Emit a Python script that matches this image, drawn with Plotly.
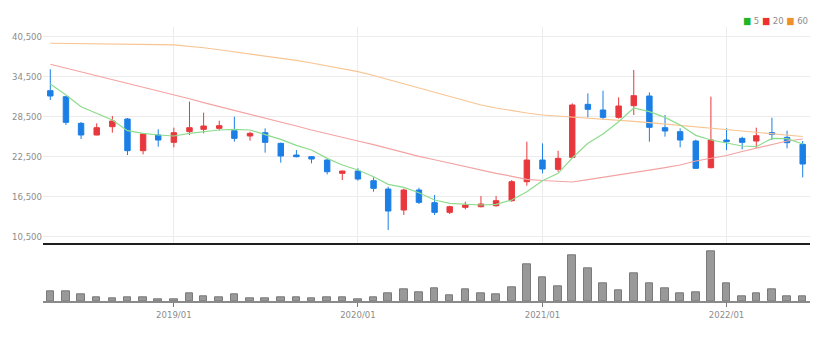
import pandas as pd
import plotly.graph_objects as go
from plotly.subplots import make_subplots

# Monthly candles, 2018/05 - 2022/06
months = pd.date_range("2018-05-01", periods=50, freq="MS")

open_ = [32400, 31500, 27500, 25750, 27000, 28150, 23400, 25750, 24650, 26250,
         26600, 26750, 26400, 25600, 26100, 24500, 22750, 22500, 22000, 20000,
         20350, 18900, 17650, 14500, 17500, 15600, 14150, 14900, 15000, 15150,
         15900, 18750, 22000, 20600, 22400, 30350, 29500, 28400, 30150, 31600,
         26850, 26250, 24850, 20850, 25000, 25250, 24850, 26100, 25400, 24350]
high = [35600, 31600, 27700, 27500, 28600, 28300, 26000, 26600, 26850, 30750,
        29100, 27900, 28500, 26250, 26750, 24600, 23500, 22600, 22200, 20400,
        20750, 19400, 18000, 17700, 17850, 16750, 15150, 15750, 16600, 16600,
        19000, 24750, 24500, 23400, 30500, 32000, 32400, 31400, 35500, 32150,
        28750, 26750, 25050, 31500, 26750, 25500, 26850, 28350, 26400, 24850]
low = [31000, 27250, 25150, 25700, 26100, 22750, 22850, 24000, 23900, 25750,
       26000, 26400, 24750, 24900, 23100, 21600, 22400, 21500, 19850, 19000,
       18900, 17250, 11500, 13750, 15400, 13750, 13900, 14600, 14900, 15000,
       15750, 18150, 20000, 20250, 22300, 28400, 28100, 28200, 28750, 24750,
       25500, 23900, 20700, 20750, 23500, 23600, 23750, 25000, 23750, 19400]
close = [31600, 27650, 25750, 26850, 27850, 23400, 25900, 25000, 26100, 26850,
         27100, 27150, 25250, 26000, 24650, 22600, 22500, 22150, 20250, 20350,
         19150, 17750, 14350, 17500, 15650, 14150, 15000, 15250, 15400, 15900,
         18750, 22000, 20650, 22250, 30250, 29600, 28400, 30100, 31650, 26900,
         26350, 25000, 20750, 25000, 24750, 24650, 25650, 25850, 24600, 21400]

volume = [950000, 1020000, 650000, 420000, 320000, 420000, 350000, 180000, 220000, 820000,
          520000, 380000, 650000, 320000, 320000, 380000, 350000, 250000, 380000, 380000,
          220000, 380000, 780000, 1150000, 830000, 1240000, 540000, 1170000, 800000, 700000,
          1340000, 3700000, 2340000, 1470000, 4540000, 3270000, 1740000, 1100000, 2800000, 1800000,
          1270000, 800000, 870000, 5000000, 1800000, 470000, 800000, 1170000, 500000, 500000]

ma5 = [33400, 31750, 30000, 29000, 28000, 26400, 26000, 25750, 25600, 26000,
       26250, 26500, 26600, 26500, 25800, 25100, 24200, 23500, 22250, 21250,
       20500, 19500, 18350, 17900, 17100, 16000, 15500, 15350, 15250, 15350,
       16000, 17250, 18900, 20000, 22300, 24500, 25900, 27750, 29800, 29250,
       28400, 27250, 25700, 25000, 24500, 24100, 24000, 25250, 25200, 24400]
ma20 = [36360, 35790, 35205, 34635, 34065, 33480, 32910, 32340, 31755, 31185,
        30600, 30030, 29460, 28875, 28305, 27705, 27105, 26505, 25980, 25425,
        24855, 24300, 23715, 23130, 22545, 22035, 21525, 21015, 20505, 19995,
        19560, 19110, 18930, 18795, 18705, 19050, 19380, 19725, 20055, 20475,
        20865, 21255, 21855, 22305, 22680, 23280, 23805, 24330, 24855, 25155]
ma60 = [39510, 39495, 39480, 39465, 39450, 39420, 39375, 39315, 39255, 39075,
        38835, 38535, 38235, 37905, 37605, 37305, 36945, 36555, 36105, 35685,
        35250, 34680, 34065, 33435, 32805, 32175, 31530, 30885, 30255, 29805,
        29385, 29055, 28755, 28605, 28485, 28335, 28170, 28005, 27810, 27600,
        27390, 27165, 26955, 26760, 26565, 26370, 26175, 25965, 25755, 25530]

price_ticks = [10500, 16500, 22500, 28500, 34500, 40500]

UP = "#e8383d"
DOWN = "#1c7fe6"
MA_COLORS = {"5": "#8ddc8d", "20": "#f4a3a3", "60": "#f8c592"}
FONT = "Liberation Sans Narrow, DejaVu Sans Condensed, Roboto, sans-serif"

fig = make_subplots(rows=2, cols=1, shared_xaxes=True, vertical_spacing=0,
                    row_heights=[0.7894, 0.2106])

for name, vals in (("60", ma60), ("20", ma20), ("5", ma5)):
    fig.add_trace(go.Scatter(x=months, y=vals, mode="lines", name=name,
                             line=dict(color=MA_COLORS[name], width=1.2),
                             hoverinfo="skip"), row=1, col=1)

fig.add_trace(go.Candlestick(
    x=months, open=open_, high=high, low=low, close=close,
    increasing=dict(line=dict(color=UP, width=1), fillcolor=UP),
    decreasing=dict(line=dict(color=DOWN, width=1), fillcolor=DOWN),
    whiskerwidth=0, name="price"), row=1, col=1)

fig.add_trace(go.Bar(x=months, y=volume, width=15 * 86400000,
                     marker=dict(color="#999999", line=dict(color="#7a7a7a", width=1)),
                     name="volume"), row=2, col=1)

x_range = ["2018-04-16 12:00", "2022-06-15 12:00"]

fig.update_xaxes(range=x_range, type="date", rangeslider_visible=False)
fig.update_xaxes(row=1, col=1, showgrid=True, gridcolor="#ececec", gridwidth=1,
                 dtick="M12", tick0="2019-01-01", showticklabels=False,
                 showline=True, linecolor="#1e1e1e", linewidth=2, zeroline=False)
fig.update_xaxes(row=2, col=1, showgrid=False, dtick="M12", tick0="2019-01-01",
                 tickformat="%Y/%m", ticks="outside", ticklen=4, tickcolor="#777777",
                 showline=True, linecolor="#8a8a8a", linewidth=2,
                 tickfont=dict(family=FONT, size=9.5, color="#8c8c8c"))

fig.update_yaxes(row=1, col=1, range=[9510, 41950], tickvals=price_ticks,
                 tickformat=",d", showgrid=True, gridcolor="#ececec", zeroline=False,
                 tickfont=dict(family=FONT, size=9.5, color="#8c8c8c"), ticks="")
fig.update_yaxes(row=2, col=1, range=[0, 5770000], showgrid=False,
                 showticklabels=False, zeroline=False)

legend_text = (f'<span style="color:#22b522">■</span> 5 '
               f'<span style="color:#ee3030">■</span> 20 '
               f'<span style="color:#f0902a">■</span> 60')
fig.add_annotation(text=legend_text, xref="paper", yref="paper", x=1.0, y=1.022,
                   xanchor="right", yanchor="middle", showarrow=False,
                   font=dict(family=FONT, size=9.5, color="#8c8c8c"))

fig.update_layout(width=827, height=338, margin=dict(l=43, r=17, t=27, b=37),
                  paper_bgcolor="white", plot_bgcolor="white", showlegend=False,
                  boxgap=0.45, bargap=0)

fig.write_html("out.html")
